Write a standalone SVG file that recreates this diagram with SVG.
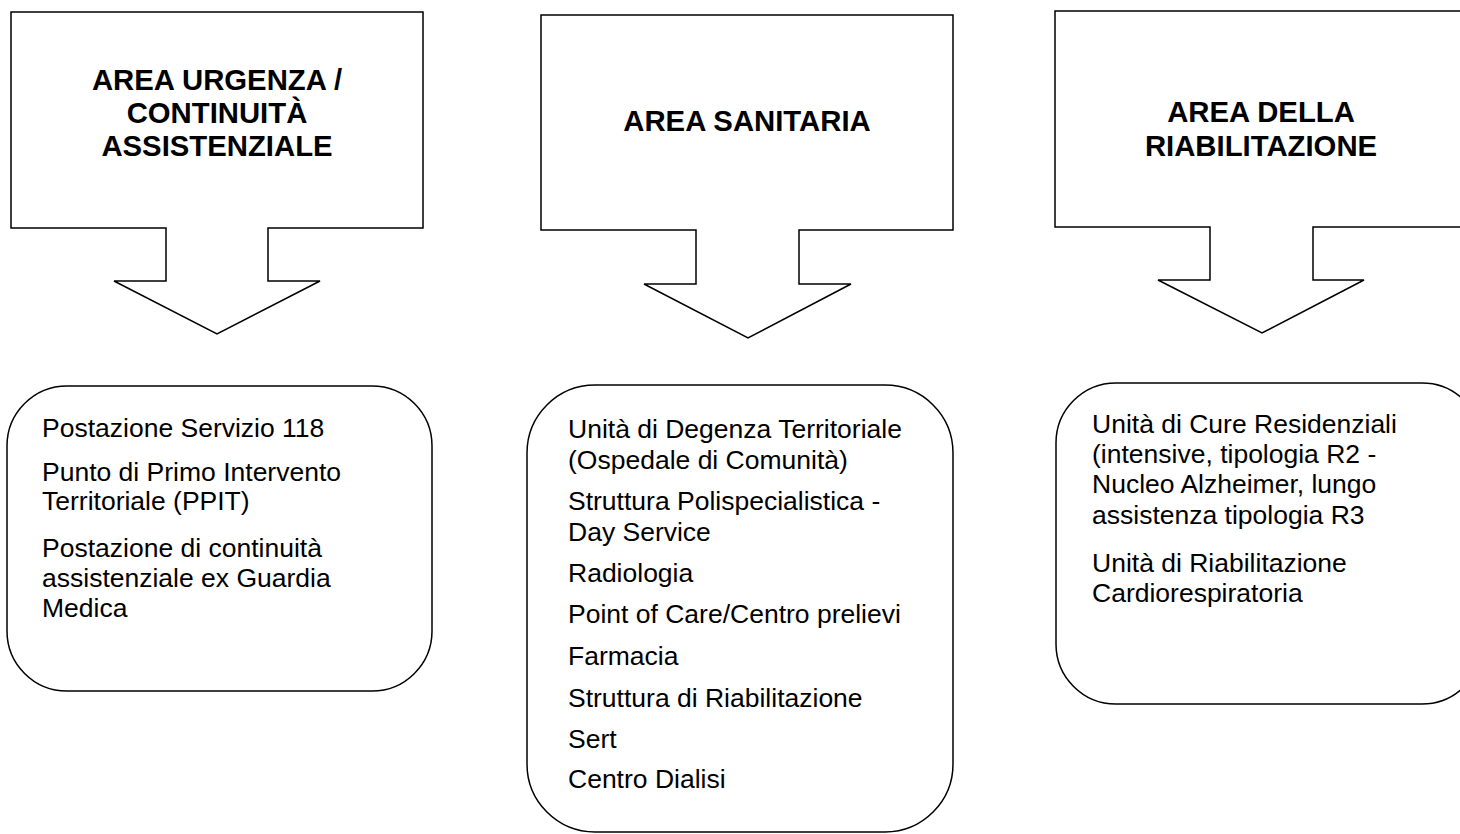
<svg xmlns="http://www.w3.org/2000/svg" width="1460" height="834" viewBox="0 0 1460 834">
<style>
.shape{fill:#fff;stroke:#000;stroke-width:1.5}
.title{font-family:"Liberation Sans",Arial,sans-serif;font-weight:bold;font-size:29.3px;text-anchor:middle;fill:#000}
.body{font-family:"Liberation Sans",Arial,sans-serif;font-size:26.5px;fill:#000}
</style>
<rect width="1460" height="834" fill="#fff"/>
<g id="connectors"></g>
<g id="arrow1">
<path class="shape" d="M11,12 H423 V228 H268 V281 H320 L217,334 L114,281 H166 V228 H11 Z"/>
<text class="title" x="217" y="90">AREA URGENZA /</text>
<text class="title" x="217" y="123">CONTINUITÀ</text>
<text class="title" x="217" y="156">ASSISTENZIALE</text>
</g>
<g id="arrow2">
<path class="shape" d="M541,15 H953 V230 H799 V284 H851 L748,338 L644,284 H696 V230 H541 Z"/>
<text class="title" x="747" y="131">AREA SANITARIA</text>
</g>
<g id="arrow3">
<path class="shape" d="M1055,11 H1467 V227 H1313 V280 H1364 L1262,333 L1158,280 H1210 V227 H1055 Z"/>
<text class="title" x="1261" y="122">AREA DELLA</text>
<text class="title" x="1261" y="156">RIABILITAZIONE</text>
</g>
<g id="box1">
<rect class="shape" x="7" y="386" width="425" height="305" rx="60" ry="60"/>
<text class="body" x="42" y="437">Postazione Servizio 118</text>
<text class="body" x="42" y="481">Punto di Primo Intervento</text>
<text class="body" x="42" y="510">Territoriale (PPIT)</text>
<text class="body" x="42" y="557">Postazione di continuità</text>
<text class="body" x="42" y="587">assistenziale ex Guardia</text>
<text class="body" x="42" y="617">Medica</text>
</g>
<g id="box2">
<rect class="shape" x="527" y="385" width="426" height="447" rx="68" ry="68"/>
<text class="body" x="568" y="438">Unità di Degenza Territoriale</text>
<text class="body" x="568" y="469">(Ospedale di Comunità)</text>
<text class="body" x="568" y="510">Struttura Polispecialistica -</text>
<text class="body" x="568" y="541">Day Service</text>
<text class="body" x="568" y="582">Radiologia</text>
<text class="body" x="568" y="623">Point of Care/Centro prelievi</text>
<text class="body" x="568" y="665">Farmacia</text>
<text class="body" x="568" y="707">Struttura di Riabilitazione</text>
<text class="body" x="568" y="748">Sert</text>
<text class="body" x="568" y="788">Centro Dialisi</text>
</g>
<g id="box3">
<rect class="shape" x="1056" y="383" width="426" height="321" rx="60" ry="60"/>
<text class="body" x="1092" y="433">Unità di Cure Residenziali</text>
<text class="body" x="1092" y="463">(intensive, tipologia R2 -</text>
<text class="body" x="1092" y="493">Nucleo Alzheimer, lungo</text>
<text class="body" x="1092" y="524">assistenza tipologia R3</text>
<text class="body" x="1092" y="572">Unità di Riabilitazione</text>
<text class="body" x="1092" y="602">Cardiorespiratoria</text>
</g>
</svg>
